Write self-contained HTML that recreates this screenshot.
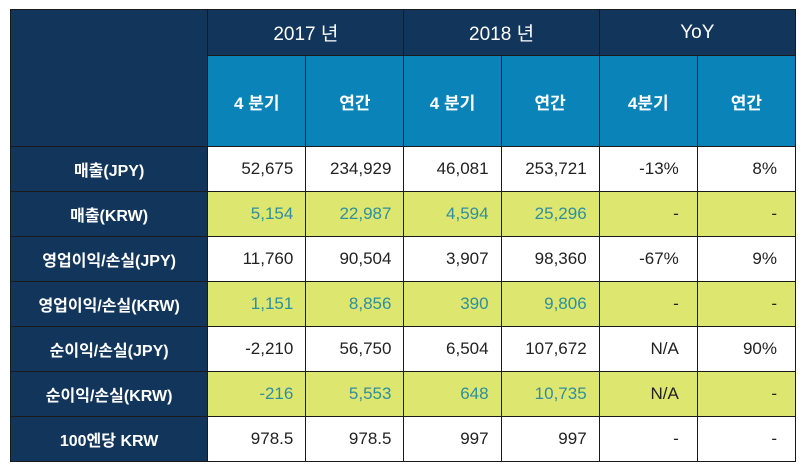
<!DOCTYPE html>
<html><head><meta charset="utf-8"><style>
body{margin:0;background:#fff;width:805px;height:475px;overflow:hidden;font-family:"Liberation Sans","Noto Sans CJK KR",sans-serif;}
table{position:absolute;left:10px;top:9px;border-collapse:collapse;table-layout:fixed;width:786px;}
td{border:1px solid #1a1a1a;padding:0;font-size:17px;color:#222;}
.n{background:#12355b;color:#fff;font-weight:bold;text-align:center;}
.b{background:#0a84b8;color:#fff;font-weight:bold;text-align:center;font-size:17px;}
.h1{height:45px;font-size:19px;font-weight:normal;}
.h2{height:90px;}
tr.d td{height:44px;text-align:right;padding-right:12px;}
tr.d td.n{text-align:center;padding-right:0;font-size:16px;}
tr.y td{background:#dde66f;color:#2e8f9e;}
tr.y td.n{background:#12355b;color:#fff;}
tr.y td.k{color:#222;}
td.r{padding-right:18px !important;}
</style></head><body>
<table>
<colgroup><col style="width:197px"><col style="width:98px"><col style="width:98px"><col style="width:97px"><col style="width:98px"><col style="width:98px"><col style="width:98px"></colgroup>
<tr><td class="n" rowspan="2"></td><td class="n h1" colspan="2">2017 년</td><td class="n h1" colspan="2">2018 년</td><td class="n h1" colspan="2">YoY</td></tr>
<tr><td class="b h2">4 분기</td><td class="b h2">연간</td><td class="b h2">4 분기</td><td class="b h2">연간</td><td class="b h2">4분기</td><td class="b h2">연간</td></tr>
<tr class="d"><td class="n">매출(JPY)</td><td>52,675</td><td>234,929</td><td>46,081</td><td>253,721</td><td class="r">-13%</td><td class="r">8%</td></tr>
<tr class="d y"><td class="n">매출(KRW)</td><td>5,154</td><td>22,987</td><td>4,594</td><td>25,296</td><td class="r k">-</td><td class="r k">-</td></tr>
<tr class="d"><td class="n">영업이익/손실(JPY)</td><td>11,760</td><td>90,504</td><td>3,907</td><td>98,360</td><td class="r">-67%</td><td class="r">9%</td></tr>
<tr class="d y"><td class="n">영업이익/손실(KRW)</td><td>1,151</td><td>8,856</td><td>390</td><td>9,806</td><td class="r k">-</td><td class="r k">-</td></tr>
<tr class="d"><td class="n">순이익/손실(JPY)</td><td>-2,210</td><td>56,750</td><td>6,504</td><td>107,672</td><td class="r">N/A</td><td class="r">90%</td></tr>
<tr class="d y"><td class="n">순이익/손실(KRW)</td><td>-216</td><td>5,553</td><td>648</td><td>10,735</td><td class="r k">N/A</td><td class="r k">-</td></tr>
<tr class="d"><td class="n">100엔당 KRW</td><td>978.5</td><td>978.5</td><td>997</td><td>997</td><td class="r">-</td><td class="r">-</td></tr>
</table>
</body></html>
